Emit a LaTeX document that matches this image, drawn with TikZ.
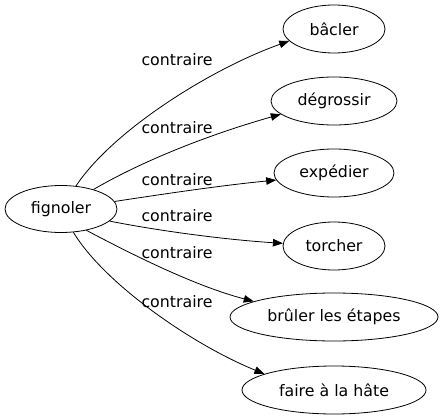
\documentclass[tikz,border=0pt]{standalone}
\usepackage{fontspec}
\setmainfont{DejaVu Sans}
\usetikzlibrary{shapes.geometric,arrows.meta}

\tikzset{every picture/.style={line width=0.8pt}}
\tikzset{
  mot/.style={draw, ellipse, inner sep=0pt, font=\fontsize{15.8}{18}\selectfont},
  lien/.style={font=\fontsize{15.8}{18}\selectfont},
  fleche/.style={-{Triangle[length=10pt,width=7.5pt]}}
}

\begin{document}
\begin{tikzpicture}[x=1pt,y=1pt,yscale=-1,xscale=1]
	\useasboundingbox (0,0) rectangle (443,419);

	%Shape: Ellipse [fignoler]
	\node[mot, minimum width=112pt, minimum height=47pt] (fig) at (61,209) {fignoler};
	%Shape: Ellipse [bacler]
	\node[mot, minimum width=102pt, minimum height=48pt] (bac) at (334,29) {bâcler};
	%Shape: Ellipse [degrossir]
	\node[mot, minimum width=126pt, minimum height=48pt] (deg) at (334,101) {dégrossir};
	%Shape: Ellipse [expedier]
	\node[mot, minimum width=120pt, minimum height=48pt] (exp) at (334,173) {expédier};
	%Shape: Ellipse [torcher]
	\node[mot, minimum width=102pt, minimum height=48pt] (tor) at (334,246) {torcher};
	%Shape: Ellipse [bruler]
	\node[mot, minimum width=208pt, minimum height=48pt] (bru) at (334,317) {brûler les étapes};
	%Shape: Ellipse [faire]
	\node[mot, minimum width=184pt, minimum height=48pt] (fai) at (334,390) {faire à la hâte};

	%Curves
	\draw[fleche] (fig.57) .. controls (114,129) and (213,68) .. (bac.195);
	\draw[fleche] (fig.31) .. controls (144,160) and (211,134) .. (deg.194);
	\draw[fleche] (fig.8) .. controls (170,193) and (225,185) .. (exp.187);
	\draw[fleche] (fig.-14) .. controls (165,232) and (230,240) .. (tor.177);
	\draw[fleche] (fig.-40) .. controls (133,255) and (195,286) .. (bru.169);
	\draw[fleche] (fig.-62) .. controls (104,283) and (191,344) .. (fai.167);

	% Text Node
	\node[lien] (l1) at (177,60) {contraire};
	% Text Node
	\node[lien] (l2) at (177,128) {contraire};
	% Text Node
	\node[lien] (l3) at (177,180) {contraire};
	% Text Node
	\node[lien] (l4) at (177,216) {contraire};
	% Text Node
	\node[lien] (l5) at (177,253) {contraire};
	% Text Node
	\node[lien] (l6) at (177,302) {contraire};

\end{tikzpicture}
\end{document}
